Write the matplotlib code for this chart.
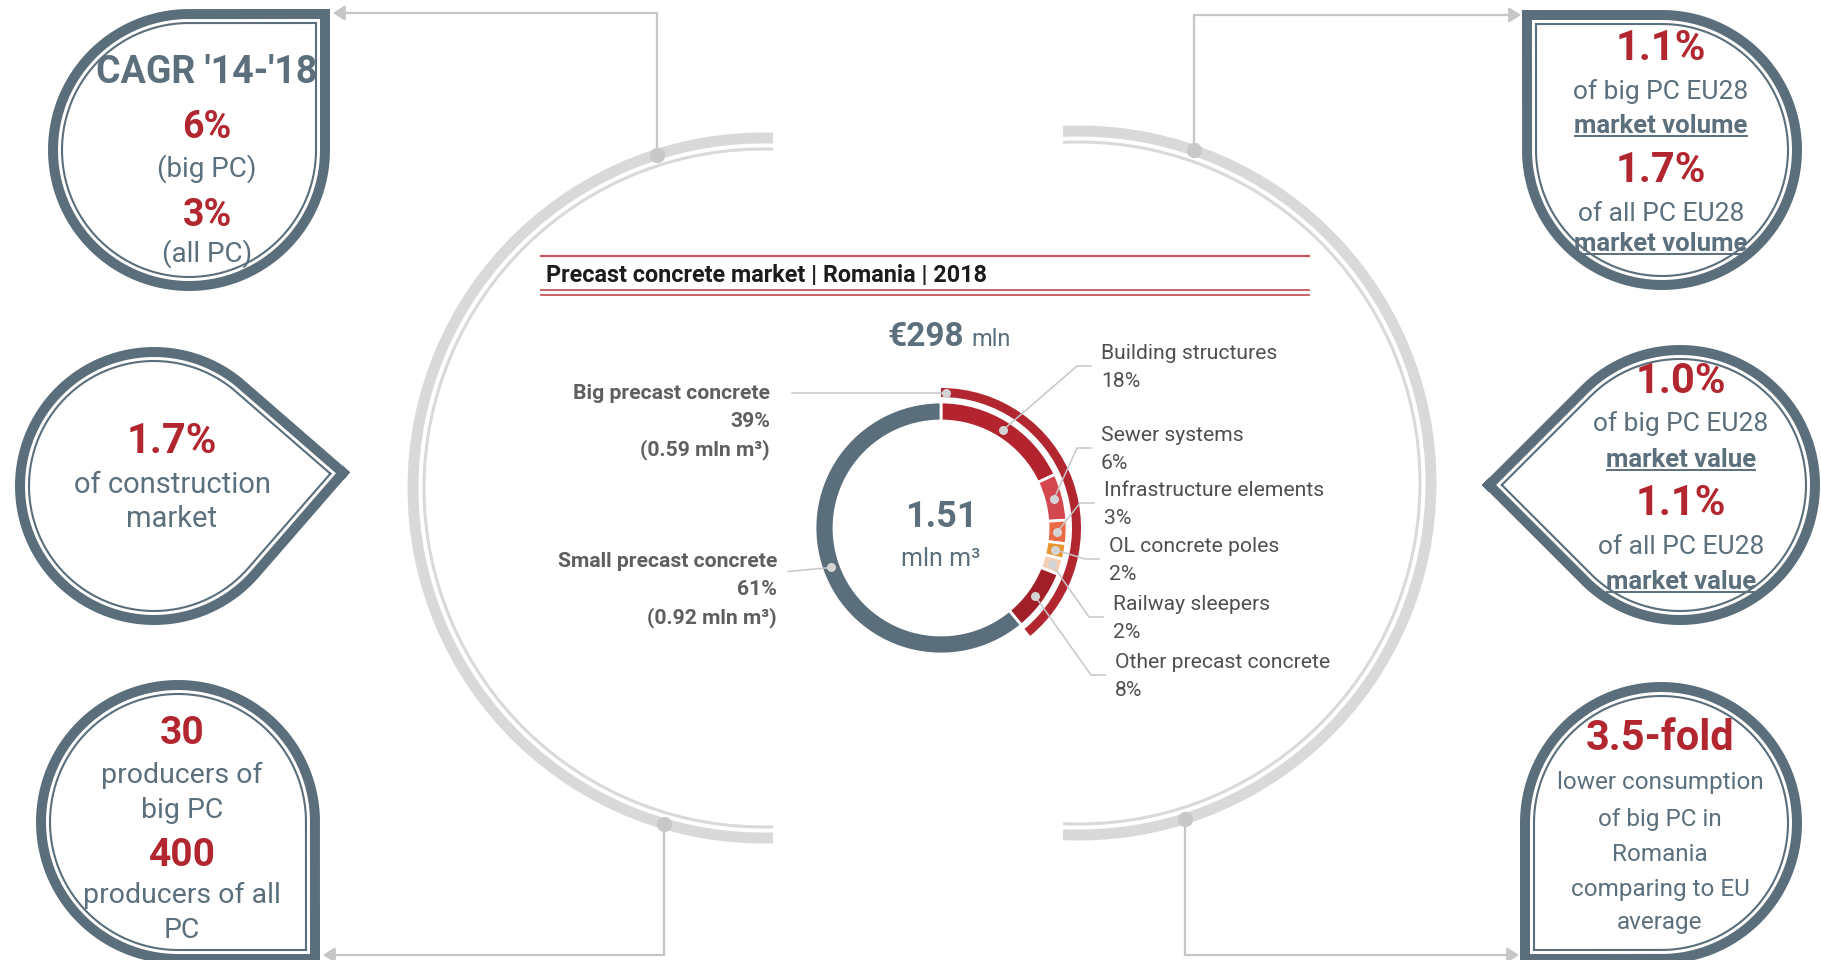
import numpy as np
import matplotlib
matplotlib.use("Agg")
import matplotlib.pyplot as plt
from matplotlib.patches import Arc

W, H = 1821, 960

# ---------------- data ----------------
chart_title = "Precast concrete market | Romania | 2018"
market_value_label = "€298"
market_value_unit = "mln"
total_volume_label = "1.51"
total_volume_unit = "mln m³"

main_segments = ["Big precast concrete", "Small precast concrete"]
main_shares = [39, 61]
main_volumes = ["(0.59 mln m³)", "(0.92 mln m³)"]

big_categories = ["Building structures", "Sewer systems", "Infrastructure elements",
                  "OL concrete poles", "Railway sleepers", "Other precast concrete"]
big_shares = [18, 6, 3, 2, 2, 8]

callout_cagr = [("CAGR '14-'18", "head"), ("6%", "num"), ("(big PC)", "txt"),
                ("3%", "num"), ("(all PC)", "txt")]
callout_volume = [("1.1%", "num"), ("of big PC EU28", "txt"), ("market volume", "ul"),
                  ("1.7%", "num"), ("of all PC EU28", "txt"), ("market volume", "ul")]
callout_construction = [("1.7%", "num"), ("of construction", "txt"), ("market", "txt")]
callout_value = [("1.0%", "num"), ("of big PC EU28", "txt"), ("market value", "ul"),
                 ("1.1%", "num"), ("of all PC EU28", "txt"), ("market value", "ul")]
callout_producers = [("30", "num"), ("producers of", "txt"), ("big PC", "txt"),
                     ("400", "num"), ("producers of all", "txt"), ("PC", "txt")]
callout_consumption = [("3.5-fold", "num"), ("lower consumption", "txt"), ("of big PC in", "txt"),
                       ("Romania", "txt"), ("comparing to EU", "txt"), ("average", "txt")]

# ---------------- style ----------------
SLATE = "#5a6e7b"
TEXT_SLATE = "#5b6f7d"
RED = "#b2262f"
ARC_GREY = "#d9d9d9"
LINE_GREY = "#c6c6c6"
DOT_GREY = "#c8c8c8"
FONT = "Roboto"
inner_colors = ["#b3242f", "#d3474f", "#ea6a45", "#e9952f", "#f6cfb4", "#a01f29"]

fig = plt.figure(figsize=(W / 100, H / 100), dpi=100)
ax = fig.add_axes([0, 0, 1, 1])
ax.set_xlim(0, W)
ax.set_ylim(0, H)
ax.set_autoscale_on(False)
renderer = fig.canvas.get_renderer()


def Y(y):
    return H - y


def put_text(x, yc, s, size, color, weight="normal", ha="center", underline=False):
    em = size * 100 / 72
    yb = yc + 0.355 * em
    t = ax.text(x, Y(yb), s, ha=ha, va="baseline", fontsize=size, color=color,
                fontweight=weight, family=FONT, zorder=6)
    if underline:
        bb = t.get_window_extent(renderer=renderer)
        ax.plot([bb.x0, bb.x1], [Y(yb + 3)] * 2, color=color, lw=1.4,
                solid_capstyle="butt", zorder=6)
    return t


# ---------------- big grey arcs ----------------
def big_arc(cx, cy, r_thick, r_thin, x_end, side):
    for r, lw in [(r_thick, 7.9), (r_thin, 2.2)]:
        a = np.degrees(np.arccos((x_end - cx) / r))
        if side == "left":
            t1, t2 = a, 360 - a
        else:
            t1, t2 = -a, a
        ax.add_patch(Arc((cx, Y(cy)), 2 * r, 2 * r, theta1=t1, theta2=t2,
                         color=ARC_GREY, lw=lw, zorder=1))


big_arc(763, 488, 350, 339, 773, "left")
big_arc(1079, 483, 352, 341, 1063, "right")


def connector(cx, cy, r, ang, y_line, x_tip):
    px = cx + r * np.cos(np.radians(ang))
    py = cy - r * np.sin(np.radians(ang))
    ax.plot([px, px, x_tip - np.sign(x_tip - px) * 8], [Y(py), Y(y_line), Y(y_line)],
            color=LINE_GREY, lw=1.6, zorder=2, solid_joinstyle="miter")
    ax.annotate("", xy=(x_tip, Y(y_line)), xytext=(x_tip - np.sign(x_tip - px) * 14, Y(y_line)),
                arrowprops=dict(arrowstyle="-|>,head_length=0.7,head_width=0.45",
                                color=LINE_GREY, lw=1.6, shrinkA=0, shrinkB=0), zorder=2)
    ax.plot([px], [Y(py)], "o", ms=11, color=DOT_GREY, mec="none", zorder=3)


connector(763, 488, 350, 107.7, 13, 333)
connector(763, 488, 350, 253.5, 955, 323)
connector(1079, 483, 352, 70.9, 15, 1521)
connector(1079, 483, 352, -72.5, 955, 1519)


# ---------------- bubbles ----------------
def teardrop(cx, cy, r, phi):
    t = np.radians(np.linspace(phi + 45, phi + 315, 300))
    ph = np.radians(phi)
    kx = cx + r * np.sqrt(2) * np.cos(ph)
    ky = cy + r * np.sqrt(2) * np.sin(ph)
    xs = np.concatenate([[kx], cx + r * np.cos(t), [kx]])
    ys = np.concatenate([[ky], cy + r * np.sin(t), [ky]])
    return xs, ys


def bubble(cx, cy, r, phi):
    xs, ys = teardrop(cx, Y(cy), r, phi)
    ax.fill(xs, ys, color="white", zorder=4)
    ax.plot(xs, ys, color=SLATE, lw=7.2, solid_joinstyle="round", zorder=5)
    xs, ys = teardrop(cx, Y(cy), r - 9, phi)
    ax.plot(xs, ys, color=SLATE, lw=1.5, solid_joinstyle="miter", zorder=5)


bubble_specs = [
    # content, cx, cy, r, phi, text x, text y centres, sizes
    (callout_cagr, 189, 150, 136, 45, 207, [70, 125, 167, 213, 252],
     {"head": 27, "num": 27, "txt": 20}),
    (callout_volume, 1662, 150, 135, 135, 1661, [45, 90, 124, 167, 212, 242],
     {"num": 30, "txt": 19, "ul": 18.5}),
    (callout_construction, 154, 486, 134, 4, 172, [438, 483, 517],
     {"num": 30, "txt": 21}),
    (callout_value, 1680, 485, 135, 180, 1681, [378, 422, 458, 500, 545, 580],
     {"num": 30, "txt": 19, "ul": 18.5}),
    (callout_producers, 178, 822, 137, -45, 182, [730, 773, 808, 852, 893, 928],
     {"num": 28, "txt": 20.5}),
    (callout_consumption, 1661, 823, 136, -135, 1660, [735, 780, 817, 852, 887, 920],
     {"num": 30, "txt": 17.5}),
]

for content, cx, cy, r, phi, tx, tys, sizes in bubble_specs:
    bubble(cx, cy, r, phi)
    for (s, kind), yc in zip(content, tys):
        if kind == "num":
            put_text(tx, yc, s, sizes[kind], RED, "bold")
        elif kind == "head":
            put_text(tx, yc, s, sizes[kind], TEXT_SLATE, "bold")
        elif kind == "ul":
            put_text(tx, yc, s, sizes[kind], TEXT_SLATE, "bold", underline=True)
        else:
            put_text(tx, yc, s, sizes[kind], TEXT_SLATE)

# ---------------- centre panel ----------------
put_text(546, 274, chart_title, 16.8, "#1c1c1c", "bold", ha="left")
TITLE_RED = "#c7575c"
ax.plot([541, 1309], [Y(255.5)] * 2, color=TITLE_RED, lw=1.6, zorder=3)
ax.plot([541, 1309], [Y(290)] * 2, color=TITLE_RED, lw=1.3, zorder=3)
ax.plot([541, 1309], [Y(295)] * 2, color=TITLE_RED, lw=1.3, zorder=3)

ax.text(964, Y(346), market_value_label, ha="right", va="baseline", fontsize=24,
        fontweight="bold", color=TEXT_SLATE, family=FONT)
ax.text(971, Y(346), market_value_unit, ha="left", va="baseline", fontsize=17,
        color=TEXT_SLATE, family=FONT)

DC = (941, Y(528))
# inner ring: big PC categories followed by small PC
inner_vals = big_shares + [main_shares[1]]
inner_cols = inner_colors + [SLATE]
w_inner, _ = ax.pie(inner_vals, colors=inner_cols, radius=126, center=DC, startangle=90,
                    counterclock=False, frame=True,
                    wedgeprops=dict(width=19, edgecolor="white", linewidth=2.0))
# outer ring: big PC share
w_outer, _ = ax.pie(main_shares, colors=[RED, "none"], radius=140, center=DC, startangle=90,
                    counterclock=False, frame=True,
                    wedgeprops=dict(width=9, edgecolor="none", linewidth=0))

put_text(941, 514, total_volume_label, 26, TEXT_SLATE, "bold")
put_text(941, 557, total_volume_unit, 18, TEXT_SLATE)


def wedge_mid(w):
    th = np.radians((w.theta1 + w.theta2) / 2)
    rr = w.r - w.width / 2
    return DC[0] + rr * np.cos(th), DC[1] + rr * np.sin(th)


# right labels with leaders
LABEL_SIZE = 15.2
right_pos = [(1101, 352), (1101, 434), (1104, 489), (1109, 545), (1113, 603), (1115, 661)]
for w, name, share, (lx, ly) in zip(w_inner[:6], big_categories, big_shares, right_pos):
    px, py = wedge_mid(w)
    ym = Y(ly + 14)
    ax.plot([px, lx - 24, lx - 10], [py, ym, ym], color=LINE_GREY, lw=1.1, zorder=2)
    ax.plot([px], [py], "o", ms=6.5, color="#d4d4d4", mec="none", zorder=4)
    put_text(lx, ly, name, LABEL_SIZE, "#4f4f4f", ha="left")
    put_text(lx, ly + 28, f"{share}%", LABEL_SIZE, "#4f4f4f", ha="left")

LEFT_GREY = "#5f5f5f"
# big precast concrete label (outer ring)
wb = w_outer[0]
tb = np.radians(wb.theta2 - 2)
bx, by = DC[0] + (wb.r - 4.5) * np.cos(tb), DC[1] + (wb.r - 4.5) * np.sin(tb)
ax.plot([792, bx], [by, by], color=LINE_GREY, lw=1.1, zorder=2)
ax.plot([bx], [by], "o", ms=6.5, color="#d4d4d4", mec="none", zorder=4)
for i, s in enumerate([main_segments[0], f"{main_shares[0]}%", main_volumes[0]]):
    put_text(770, 392 + 28 * i, s, 15.2, LEFT_GREY, "bold", ha="right")

# small precast concrete label (inner slate wedge)
sx, sy = wedge_mid(w_inner[6])
ax.plot([788, sx], [sy - 4, sy], color=LINE_GREY, lw=1.1, zorder=2)
ax.plot([sx], [sy], "o", ms=6.5, color="#d4d4d4", mec="none", zorder=4)
for i, s in enumerate([main_segments[1], f"{main_shares[1]}%", main_volumes[1]]):
    put_text(777, 560 + 28 * i, s, 15.2, LEFT_GREY, "bold", ha="right")

ax.set_xlim(0, W)
ax.set_ylim(0, H)
ax.set_aspect("auto")
ax.axis("off")
fig.savefig("out.png", dpi=100, facecolor="white")
